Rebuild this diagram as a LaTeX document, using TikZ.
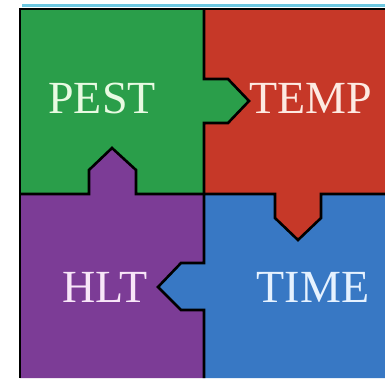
\documentclass[tikz,border=0pt]{standalone}
\usepackage{fontspec}
\setmainfont{Liberation Serif}
\definecolor{pgreen}{RGB}{42,158,74}
\definecolor{pred}{RGB}{198,56,40}
\definecolor{ppurple}{RGB}{124,60,150}
\definecolor{pblue}{RGB}{56,120,196}
\definecolor{pcyan}{RGB}{110,200,225}
\tikzset{
  seam/.style={draw=black, line width=2.6pt, line join=miter},
  word/.style={anchor=base, font=\fontsize{46}{46}\selectfont, inner sep=0pt}
}
\begin{document}
\begin{tikzpicture}[x=1pt,y=-1pt]
\useasboundingbox (0,0) rectangle (385,380);
\fill[white] (0,0) rectangle (385,380);
% top cyan strip
\fill[pcyan] (22,3.5) rectangle (385,7);
% pieces
\fill[pgreen] (20,9) -- (204,9) -- (204,79) -- (228,79) -- (249,101) -- (228,123) -- (204,123) -- (204,194) -- (136,194) -- (136,170) -- (112,148) -- (89,170) -- (89,194) -- (20,194) -- cycle;
\fill[pred] (204,9) -- (385,9) -- (385,194) -- (321,194) -- (321,218) -- (298,240) -- (275,218) -- (275,194) -- (204,194) -- (204,123) -- (228,123) -- (249,101) -- (228,79) -- (204,79) -- cycle;
\fill[ppurple] (20,194) -- (89,194) -- (89,170) -- (112,148) -- (136,170) -- (136,194) -- (204,194) -- (204,263) -- (181,263) -- (158,287) -- (181,310) -- (204,310) -- (204,378) -- (20,378) -- cycle;
\fill[pblue] (204,194) -- (275,194) -- (275,218) -- (298,240) -- (321,218) -- (321,194) -- (385,194) -- (385,378) -- (204,378) -- (204,310) -- (181,310) -- (158,287) -- (181,263) -- (204,263) -- cycle;
% seams
\draw[seam] (20,378) -- (20,9) -- (385,9);
\draw[seam] (204,9) -- (204,79) -- (228,79) -- (249,101) -- (228,123) -- (204,123) -- (204,263) -- (181,263) -- (158,287) -- (181,310) -- (204,310) -- (204,378);
\draw[seam] (20,194) -- (89,194) -- (89,170) -- (112,148) -- (136,170) -- (136,194) -- (275,194) -- (275,218) -- (298,240) -- (321,218) -- (321,194) -- (385,194);
% words
\node[word, text={rgb,255:red,232;green,250;blue,226}] (pest) at (102,113) {PEST};
\node[word, text={rgb,255:red,253;green,234;blue,226}] (temp) at (311,113) {TEMP};
\node[word, text={rgb,255:red,248;green,230;blue,248}] (hlt) at (105,302) {HLT};
\node[word, text={rgb,255:red,230;green,242;blue,255}] (time) at (313,302) {TIME};
\end{tikzpicture}
\end{document}
